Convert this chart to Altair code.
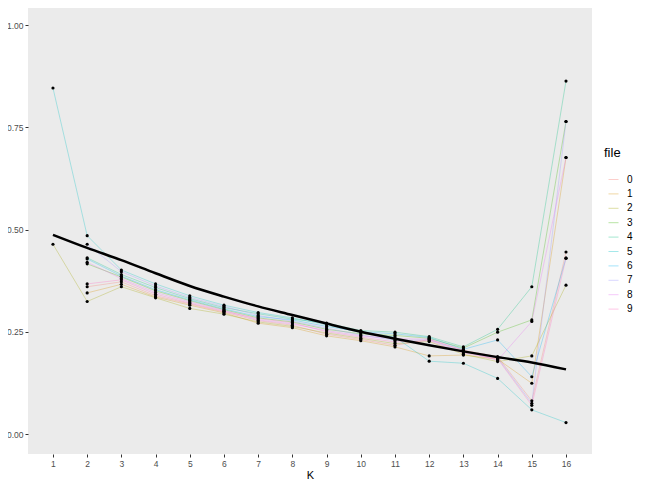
import altair as alt
import pandas as pd

K = list(range(1, 17))
files = [str(i) for i in range(10)]

f0 = [None, 0.360, 0.372, 0.338, 0.318, 0.298, 0.277, 0.266, 0.244, 0.231, 0.217, 0.231, 0.205, 0.189, 0.081, 0.445]
f1 = [None, 0.345, 0.366, 0.335, 0.315, 0.296, 0.271, 0.260, 0.240, 0.228, 0.213, 0.191, 0.193, 0.183, 0.124, 0.676]
f2 = [0.464, 0.324, 0.360, 0.333, 0.307, 0.293, 0.274, 0.263, 0.247, 0.234, 0.221, 0.226, 0.195, 0.177, 0.191, 0.364]
f3 = [None, 0.416, 0.384, 0.350, 0.326, 0.304, 0.284, 0.274, 0.256, 0.245, 0.241, 0.234, 0.210, 0.249, 0.279, 0.764]
f4 = [None, 0.431, 0.390, 0.358, 0.331, 0.309, 0.294, 0.281, 0.271, 0.253, 0.249, 0.238, 0.213, 0.256, 0.360, 0.863]
f5 = [0.846, 0.485, 0.401, 0.367, 0.338, 0.315, 0.297, 0.284, 0.267, 0.248, 0.237, 0.178, 0.173, 0.136, 0.059, 0.028]
f6 = [None, 0.428, 0.386, 0.353, 0.328, 0.306, 0.287, 0.279, 0.263, 0.250, 0.245, 0.236, 0.207, 0.230, 0.140, 0.430]
f7 = [None, 0.464, 0.397, 0.362, 0.334, 0.312, 0.290, 0.276, 0.259, 0.242, 0.229, 0.230, 0.201, 0.186, 0.075, 0.764]
f8 = [None, 0.420, 0.380, 0.346, 0.323, 0.302, 0.279, 0.269, 0.253, 0.240, 0.233, 0.232, 0.204, 0.180, 0.275, 0.676]
f9 = [None, 0.367, 0.377, 0.342, 0.320, 0.300, 0.282, 0.272, 0.250, 0.237, 0.225, 0.228, 0.198, 0.184, 0.070, 0.430]
series = [f0, f1, f2, f3, f4, f5, f6, f7, f8, f9]

smooth = [0.487, 0.455, 0.425, 0.393, 0.362, 0.336, 0.312, 0.291, 0.270, 0.250, 0.233, 0.217, 0.202, 0.188, 0.175, 0.158]

palette = ["#F8766D", "#D89000", "#A3A500", "#39B600", "#00BF7D",
           "#00BFC4", "#00B0F6", "#9590FF", "#E76BF3", "#FF62BC"]

rows = []
for name, vals in zip(files, series):
    for k, v in zip(K, vals):
        if v is not None:
            rows.append({"K": k, "value": v, "file": name})
df = pd.DataFrame(rows)
df_s = pd.DataFrame({"K": K, "value": smooth})

FONT = "Liberation Sans"
xsc = alt.Scale(domain=[0.27, 16.76], nice=False, zero=False)
ysc = alt.Scale(domain=[-0.0489, 1.0416], nice=False, zero=False)

xax = alt.Axis(values=K, title="K", grid=False, domain=False, tickSize=3,
               tickColor="#333333", labelColor="#4D4D4D", labelFontSize=8.5,
               labelPadding=2, labelOverlap=False, labelFlush=False, titleFontSize=11,
               titleFontWeight="normal", titleColor="#000000", titlePadding=2,
               labelFont=FONT, titleFont=FONT)
yax = alt.Axis(values=[0, 0.25, 0.5, 0.75, 1.0], format=".2f", title="", grid=False,
               domain=False, tickSize=3, tickColor="#333333", labelColor="#4D4D4D",
               labelFontSize=8.5, labelPadding=2, labelOverlap=False, labelFont=FONT)

X = alt.X("K:Q", scale=xsc, axis=xax)
Y = alt.Y("value:Q", scale=ysc, axis=yax)

lines = alt.Chart(df).mark_line(strokeWidth=1, opacity=0.3).encode(
    x=X,
    y=Y,
    color=alt.Color("file:N", scale=alt.Scale(domain=files, range=palette),
                    legend=alt.Legend(title="file", orient="none", legendX=576, legendY=139,
                                      symbolType="stroke", symbolSize=100, symbolStrokeWidth=1,
                                      symbolOpacity=0.35, labelFontSize=10, titleFontSize=13,
                                      titleFontWeight="normal", titleColor="#000000",
                                      labelColor="#000000", titlePadding=14, rowPadding=3.4,
                                      symbolOffset=4, labelOffset=8, padding=0,
                                      labelFont=FONT, titleFont=FONT)),
    detail="file:N",
)

points = alt.Chart(df).mark_circle(size=10, color="#000000", opacity=1).encode(x=X, y=Y)

fit = alt.Chart(df_s).mark_line(color="#000000", strokeWidth=2.5, interpolate="monotone").encode(
    x=X, y=Y)

chart = alt.layer(lines, points, fit).properties(
    width=564, height=446,
    autosize=alt.AutoSizeParams(type="none"),
    padding={"left": 20, "top": 0, "right": 48, "bottom": 27},
    background="#FFFFFF",
).configure_view(fill="#EBEBEB", strokeWidth=0)

chart.save("out.html", embed_options={"renderer": "svg", "actions": False})
